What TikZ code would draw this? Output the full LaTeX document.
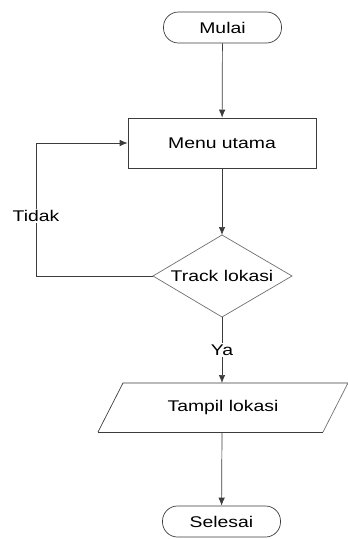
\documentclass[tikz,border=0pt]{standalone}
\usepackage{fontspec}
\setmainfont{Liberation Sans}[FakeStretch=1.25]
\usetikzlibrary{shapes.geometric,arrows.meta}
\definecolor{ln}{RGB}{60,60,60}
\definecolor{lnl}{RGB}{110,110,110}
\begin{document}
\begin{tikzpicture}[x=1pt,y=-1pt,
  every node/.style={font=\fontsize{15.5}{18}\selectfont, text=black},
  term/.style={draw=ln, line width=0.7pt, rectangle, rounded corners=15pt, minimum width=118pt, minimum height=31pt, inner sep=0pt},
  procbox/.style={draw=ln, line width=0.7pt, rectangle, minimum width=188pt, minimum height=50pt, inner sep=0pt},
  arr/.style={draw=ln, line width=0.7pt, -{Latex[length=8pt,width=6.5pt]}},
  lbl/.style={fill=white, inner sep=1.5pt}
]
\useasboundingbox (0,0) rectangle (348,539);
\node[term] (mulai) at (222.5,27.5) {Mulai};
\node[procbox] (menu) at (222,143) {Menu utama};
% decision diamond
\coordinate (dt) at (222,235);
\coordinate (dr) at (292,276);
\coordinate (db) at (222,317);
\coordinate (dl) at (153,276);
\draw[lnl, line width=0.7pt] (dt) -- (dr) -- (db) -- (dl) -- cycle;
\node (track) at (222,276) {Track lokasi};
% parallelogram
\coordinate (p1) at (123,383);
\coordinate (p2) at (348,383);
\coordinate (p3) at (323,432);
\coordinate (p4) at (98,432);
\draw[ln, line width=0.7pt] (p4) -- (p1) -- (p2);
\draw[lnl, line width=0.7pt] (p2) -- (p3);
\draw[ln, line width=0.7pt] (p3) -- (p4);
\node (tampil) at (223,407.5) {Tampil lokasi};
\coordinate (ptop) at (222,383);
\coordinate (pbot) at (222,432);
\node[term] (selesai) at (221.5,521.5) {Selesai};
% connectors
\draw[arr] (mulai) -- (menu);
\draw[arr] (menu) -- (dt);
\coordinate (lc) at (36,276);
\draw[arr] (dl) -- (lc) |- (menu.west);
\draw[arr] (db) -- (ptop);
\draw[arr] (pbot) -- (selesai);
\node[lbl] (tidak) at (36,216) {Tidak};
\node[lbl] (ya) at (222,350) {Ya};
\end{tikzpicture}
\end{document}
